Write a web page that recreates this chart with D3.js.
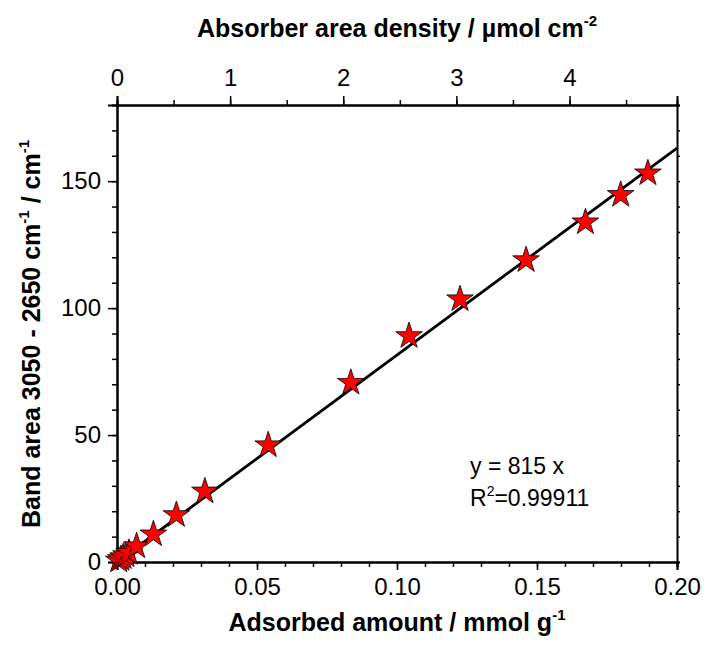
<!DOCTYPE html>
<html>
<head>
<meta charset="utf-8">
<script src="https://cdn.jsdelivr.net/npm/d3@7"></script>
<style>
  body { margin: 0; background: #fff; }
  text { font-family: "Liberation Sans", Arial, sans-serif; fill: #000; }
  .title { font-size: 25px; font-weight: bold; }
</style>
</head>
<body>
<div id="chart"></div>
<script>
// adsorbed amount (mmol/g) vs band area (cm-1)
let amount = [0.0006, 0.0014, 0.0022, 0.0032, 0.0043, 0.0070, 0.0130, 0.0212, 0.0314, 0.0540, 0.0835, 0.1043, 0.1225, 0.1461, 0.1673, 0.1799, 0.1896];
let bandArea = [0.6, 1.2, 1.9, 2.7, 3.6, 6.2, 10.9, 18.5, 27.8, 46.0, 70.6, 89.0, 103.5, 118.9, 133.8, 144.6, 153.1];
let slope = 815;
let xTicks = [0, 0.05, 0.10, 0.15, 0.20];
let yTicks = [0, 50, 100, 150];
let topTicks = [0, 1, 2, 3, 4];

let width = 706, height = 645;
let margin = {top: 105, right: 29, bottom: 83, left: 117};

let svg = d3.select("#chart").append("svg")
  .attr("width", width)
  .attr("height", height);

let x = d3.scaleLinear().domain([0, 0.2]).range([margin.left, width - margin.right]);
let y = d3.scaleLinear().domain([0, 180]).range([height - margin.bottom, margin.top]);
let xTop = d3.scaleLinear().domain([0, 4.95]).range([margin.left, width - margin.right]);

function styleAxis(g) {
  g.select(".domain").attr("stroke", "#000").attr("stroke-width", 2);
  g.selectAll(".tick line").attr("stroke", "#000").attr("stroke-width", 1.5);
  g.attr("font-size", 24).attr("font-family", "Liberation Sans, Arial, sans-serif");
}

// minor ticks first, then major on top
svg.append("g")
  .attr("transform", `translate(0,${y(0)})`)
  .call(d3.axisBottom(x).tickValues(d3.range(0, 0.2001, 0.01)).tickSize(5).tickFormat(""))
  .call(styleAxis);
svg.append("g")
  .attr("transform", `translate(0,${y(0)})`)
  .call(d3.axisBottom(x).tickValues(xTicks).tickSize(8).tickPadding(8).tickFormat(d3.format(".2f")))
  .call(styleAxis);

svg.append("g")
  .attr("transform", `translate(${margin.left},0)`)
  .call(d3.axisLeft(y).tickValues(d3.range(0, 181, 10)).tickSize(5).tickFormat(""))
  .call(styleAxis);
svg.append("g")
  .attr("transform", `translate(${margin.left},0)`)
  .call(d3.axisLeft(y).tickValues(yTicks).tickSize(9).tickPadding(7).tickFormat(d3.format("d")))
  .call(styleAxis);

svg.append("g")
  .attr("transform", `translate(0,${margin.top})`)
  .call(d3.axisTop(xTop).tickValues(d3.range(0, 4.96, 0.5)).tickSize(5).tickFormat(""))
  .call(styleAxis);
svg.append("g")
  .attr("transform", `translate(0,${margin.top})`)
  .call(d3.axisTop(xTop).tickValues(topTicks).tickSize(9).tickPadding(10).tickFormat(d3.format("d")))
  .call(styleAxis);

svg.append("g")
  .attr("transform", `translate(${width - margin.right},0)`)
  .call(d3.axisRight(y).tickValues(d3.range(0, 181, 10)).tickSize(3).tickFormat(""))
  .call(styleAxis);

// fit line
let fit = d3.line().x(d => x(d)).y(d => y(slope * d));
svg.append("path")
  .attr("d", fit([0, 0.2]))
  .attr("fill", "none")
  .attr("stroke", "#000")
  .attr("stroke-width", 2.8);

// stars
let star = d3.symbol().type(d3.symbolStar).size(220);
svg.selectAll(".pt")
  .data(amount)
  .enter()
  .append("path")
  .attr("class", "pt")
  .attr("d", star)
  .attr("transform", (d, i) => `translate(${x(d)},${y(bandArea[i])})`)
  .attr("fill", "#ff0000")
  .attr("stroke", "#000")
  .attr("stroke-width", 0.8);

// equation
let eq = svg.append("g").style("font-size", "23px");
eq.append("text").attr("x", 470).attr("y", 474).text("y = 815 x");
let r2 = eq.append("text").attr("x", 470).attr("y", 506);
r2.append("tspan").text("R");
r2.append("tspan").attr("dy", -10).style("font-size", "14px").text("2");
r2.append("tspan").attr("dy", 10).text("=0.99911");

// titles
let bt = svg.append("text").attr("class", "title")
  .attr("x", (x(0) + x(0.2)) / 2).attr("y", 631).attr("text-anchor", "middle");
bt.append("tspan").text("Adsorbed amount / mmol g");
bt.append("tspan").attr("dy", -11).style("font-size", "15px").text("-1");

let tt = svg.append("text").attr("class", "title")
  .attr("x", (x(0) + x(0.2)) / 2).attr("y", 37).attr("text-anchor", "middle");
tt.append("tspan").text("Absorber area density / µmol cm");
tt.append("tspan").attr("dy", -11).style("font-size", "15px").text("-2");

let lt = svg.append("text").attr("class", "title")
  .attr("transform", `translate(40,334) rotate(-90)`)
  .attr("text-anchor", "middle");
lt.append("tspan").text("Band area 3050 - 2650 cm");
lt.append("tspan").attr("dy", -11).style("font-size", "15px").text("-1");
lt.append("tspan").attr("dy", 11).text(" / cm");
lt.append("tspan").attr("dy", -11).style("font-size", "15px").text("-1");
</script>
</body>
</html>
